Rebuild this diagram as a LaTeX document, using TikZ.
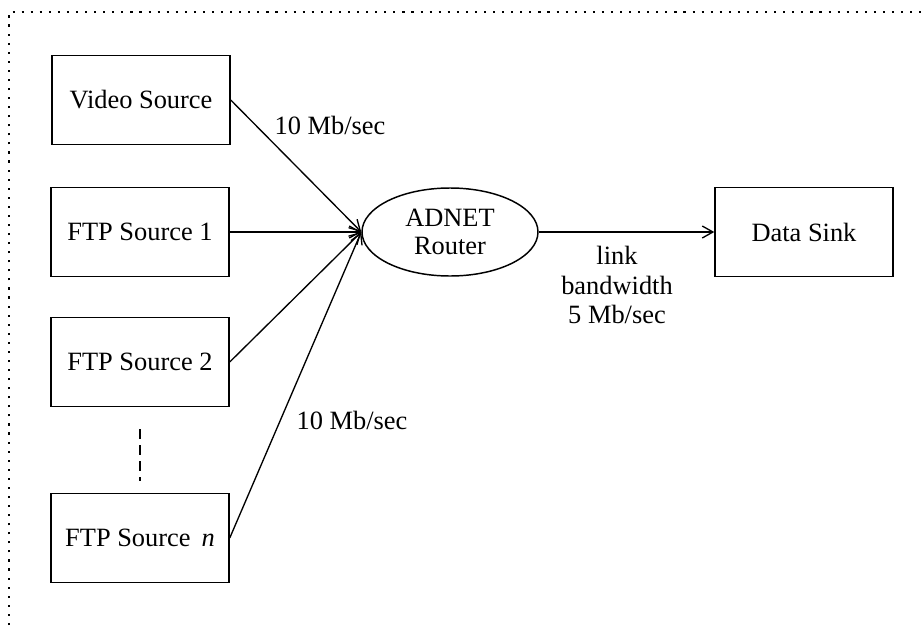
\documentclass[tikz,border=0pt]{standalone}
\usepackage{fontspec}
\setmainfont{Liberation Serif}
\usetikzlibrary{shapes.geometric,arrows.meta}
\begin{document}
\begin{tikzpicture}[x=0.75pt,y=-0.75pt,
    font=\fontsize{19.8}{22}\selectfont,
    link/.style={line width=1pt,-{Straight Barb[length=8pt,width=9pt]}}]

        \useasboundingbox (0,0) rectangle (924,625);
        \draw[line width=1.3pt,dash pattern=on 1.6pt off 5.2pt] (9,625) -- (9,12) -- (924,12);

        \begin{scope}[every node/.style={rectangle,draw,line width=1.1pt,
            minimum width=133.5pt,minimum height=66.75pt,inner sep=0pt}]
          \node (video) at (141,100) {Video Source};
          \node (ftp1)  at (140,232) {FTP Source 1};
          \node (ftp2)  at (140,362) {FTP Source 2};
          \node (ftpn)  at (140,538) {FTP Source \,\textit{n}};
          \node (sink)  at (804,232) {Data Sink};
        \end{scope}

        \node[ellipse,draw,line width=1.1pt,minimum width=132pt,minimum height=66pt,
              inner sep=0pt,align=center,font=\fontsize{19.8}{21}\selectfont]
              (router) at (450,232) {ADNET\\Router};

        \begin{scope}[every node/.style={align=center}]
          \node (rate1) at (330,125) {10 Mb/sec};
          \node (rate2) at (352,420) {10 Mb/sec};
          \node (band)  at (617,285) {link\\bandwidth\\5 Mb/sec};
        \end{scope}

        \draw[link] (video.east) -- (router.west);
        \draw[link] (ftp1.east)  -- (router.west);
        \draw[link] (ftp2.east)  -- (router.west);
        \draw[link] (ftpn.east)  -- (router.west);
        \draw[link] (router.east) -- (sink.west);
        \draw[line width=0.9pt,dash pattern=on 7pt off 5pt,
              shorten <=16.5pt,shorten >=9pt] (ftp2) -- (ftpn);

      \end{tikzpicture}
\end{document}
